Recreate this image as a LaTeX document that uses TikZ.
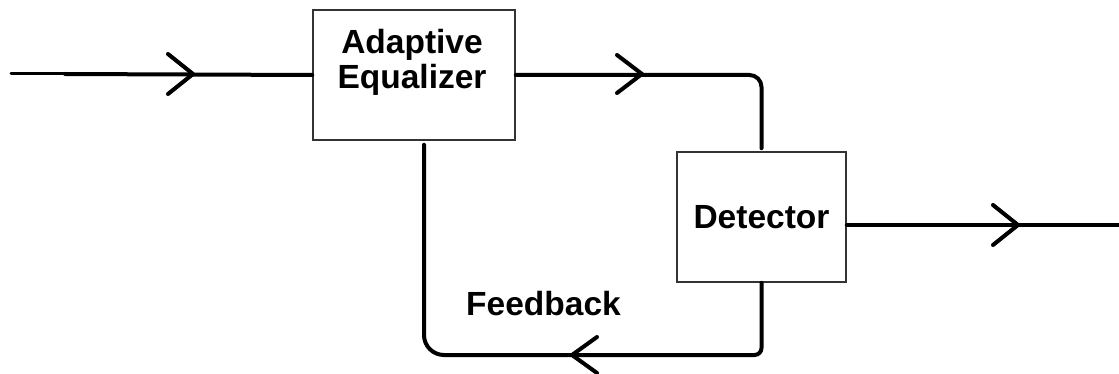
\documentclass[tikz,border=0pt]{standalone}
\usepackage{fontspec}
\setmainfont{Liberation Sans}
\begin{document}
\begin{tikzpicture}[x=1pt,y=-1pt,
  conn/.style={line width=4pt, line cap=round, line join=round},
  block/.style={draw=black!80, line width=1.5pt, inner sep=0pt},
  txt/.style={font=\fontsize{33.5}{35}\selectfont\bfseries, align=center, inner sep=0pt},
  pics/chev/.style={code={\draw[conn] (-25,-#1) -- (0,0) -- (-25,#1);}}
]
\useasboundingbox (0,0) rectangle (1119,374);

% blocks
\node[block, minimum width=202pt, minimum height=130pt] (eq) at (414,75) {};
\node[txt] (eqtext) at (412,62) {Adaptive\\Equalizer};
\node[block, minimum width=169pt, minimum height=130pt, txt] (det) at (761.5,217) {Detector};
\node[txt] (fblabel) at (543.5,304) {Feedback};

% end points
\coordinate (in) at (11,74);
\coordinate (in2) at (65,74);
\coordinate (out) at (1125,225);
\coordinate (fb) at (424,355);
\coordinate (fbtop) at ([xshift=10pt,yshift=-4pt]eq.south);

% input
\draw[conn, line width=3pt] (in) -- (in2);
\draw[conn] (in2) -- (eq.west);
\pic at (193,74) {chev=20};

% equalizer to detector
\draw[conn, rounded corners=12pt] (eq.east) -| ([yshift=3pt]det.north);
\pic at (642,74) {chev=19};

% output
\draw[conn] ([yshift=-8pt]det.east) -- (out);
\pic at (1018,225) {chev=20};

% feedback loop
\draw[conn] (det.south) [rounded corners=7pt] -- (det.south |- fb)
  [rounded corners=20pt] -- (fb) -- (fbtop);
\pic[rotate=180] at (572,355) {chev=18};
\end{tikzpicture}
\end{document}
